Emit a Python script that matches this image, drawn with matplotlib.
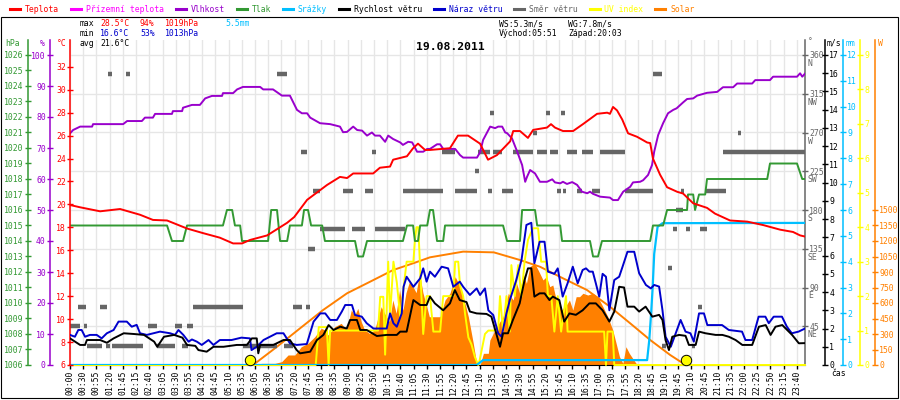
import matplotlib
matplotlib.use("Agg")
import matplotlib.pyplot as plt
import matplotlib.transforms as mtransforms
from matplotlib.lines import Line2D
from matplotlib.patches import Rectangle
import numpy as np

plt.rcParams['font.family'] = ['DejaVu Sans Mono', 'DejaVu Sans']
FS = 5.9

# ---------------- data ----------------
tick_labels = ["00:00","00:30","00:55","01:20","01:45","02:15","02:40","03:05","03:30","03:55",
               "04:20","04:45","05:10","05:35","06:05","06:30","06:55","07:20","07:45","08:10",
               "08:35","09:00","09:25","09:50","10:15","10:40","11:05","11:30","11:55","12:20",
               "12:45","13:10","13:35","14:05","14:30","14:55","15:20","15:45","16:10","16:35",
               "17:00","17:30","17:55","18:20","18:45","19:10","19:45","20:10","20:45","21:10",
               "21:35","22:00","22:25","22:50","23:15","23:40"]

temp_t = [0,0.33,0.98,1.63,2.28,2.70,3.16,3.81,4.33,4.88,5.31,5.60,5.86,6.42,7.07,7.3,7.72,
          8.37,8.79,9.02,9.22,9.87,10.09,10.42,10.52,10.97,11.17,11.33,11.56,11.72,12.37,12.63,
          12.96,13.35,13.61,13.90,14.33,14.43,14.65,14.91,15.08,15.53,15.66,15.79,16.05,16.38,
          16.70,17.16,17.49,17.58,17.68,17.81,17.98,18.17,18.46,18.66,18.79,18.89,18.98,19.21,
          19.44,19.77,19.96,20.29,20.74,21.0,21.49,22.05,22.57,23.12,23.54,23.77,23.93]
temp_v = [19.95,19.75,19.4,19.6,19.1,18.65,18.6,17.9,17.5,17.1,16.6,16.6,16.9,17.3,18.4,18.9,20.4,
          21.7,22.4,22.3,22.7,22.7,23.2,23.3,23.9,24.2,24.9,25.3,24.75,24.75,24.9,26.0,
          26.0,25.3,23.9,24.3,25.5,26.4,26.4,25.8,26.5,26.7,27.0,26.7,26.4,26.4,
          27.0,27.9,28.0,27.9,28.5,28.2,27.4,26.2,25.9,25.6,25.4,25.35,24.0,22.6,
          21.5,21.1,20.95,20.1,19.7,19.2,18.6,18.5,18.2,17.8,17.6,17.3,17.2]

hum_t = [0,0.10,0.33,0.72,0.75,1.73,1.86,2.34,2.44,2.70,2.77,3.32,3.35,3.65,3.68,3.97,4.23,4.40,
         4.62,4.95,4.98,5.31,5.44,5.63,6.19,6.29,6.61,6.90,7.16,7.39,7.55,7.72,7.82,8.14,8.47,
         8.79,8.89,9.02,9.22,9.35,9.51,9.67,9.83,9.93,10.09,10.26,10.36,10.52,10.75,10.84,11.01,
         11.14,11.30,11.50,11.63,11.72,11.95,12.05,12.15,12.54,12.70,12.80,13.25,13.35,13.45,
         13.68,13.84,13.94,14.07,14.17,14.23,14.39,14.56,14.72,14.82,14.88,14.98,15.14,15.30,
         15.53,15.70,15.79,15.96,16.05,16.18,16.35,16.51,16.67,16.84,16.93,17.03,17.26,17.58,
         17.68,17.84,18.01,18.24,18.33,18.56,18.66,18.82,18.95,19.02,19.15,19.31,19.47,19.64,
         19.75,19.96,20.09,20.29,20.42,20.74,21.07,21.26,21.59,21.72,22.21,22.31,22.79,22.89,
         23.67,23.77,23.84,23.93]
hum_v = [74.7,75.8,76.9,76.9,77.7,77.7,78.7,78.7,79.8,79.8,81.0,81.0,81.9,81.9,83.0,83.9,83.9,86.0,
         86.8,86.8,87.7,87.7,88.9,89.7,89.7,88.9,88.9,86.9,86.9,82.3,81.2,81.2,79.8,78.0,77.7,
         76.9,75.1,75.2,76.9,75.8,75.6,74.0,75.0,74.0,74.0,72.0,74.0,72.9,71.8,71.0,72.0,
         71.8,68.8,68.8,69.7,69.7,71.2,71.2,69.7,69.7,67.7,66.9,66.9,68.6,72.6,
         76.9,76.4,76.9,76.9,75.0,74.8,73.1,68.8,64.5,59.1,60.7,62.9,61.8,59.1,
         59.1,59.9,58.9,58.6,59.1,58.4,59.0,58.1,55.9,55.4,55.9,55.2,54.3,54.0,
         53.2,53.2,55.9,57.5,58.9,59.1,59.6,61.3,64.5,68.8,74.2,78.0,81.2,82.3,
         82.8,84.7,85.8,86.0,86.9,87.8,88.1,89.6,89.6,90.8,90.8,91.9,91.9,93.0,
         93.0,94.1,93.0,94.0]

p_start = [0,3.32,3.81,5.11,5.37,5.60,6.55,6.84,7.16,7.62,7.85,8.30,9.38,9.67,10.97,11.23,11.40,
           11.72,11.95,12.21,14.23,14.72,15.21,16.02,17.03,17.32,18.98,19.44,20.12,20.35,20.48,
           20.74,22.79,23.84]
p_end = [3.16,3.68,4.98,5.28,5.54,6.45,6.74,7.07,7.55,7.75,8.21,9.28,9.54,10.84,11.17,11.33,11.63,
         11.82,12.15,14.10,14.65,15.14,15.96,16.93,17.19,18.89,19.31,20.09,20.29,20.35,20.68,
         22.70,23.67,23.93]
p_val = [1015,1014,1015,1016,1015,1014,1016,1014,1015,1016,1015,1014,1013,1014,1015,1014,1015,
         1016,1014,1015,1014,1016,1015,1014,1013,1014,1015,1016,1017,1016,1017,
         1018,1019,1018]

ws_t = [0,0.33,0.49,0.55,0.98,1.2,1.42,1.75,2.08,2.41,2.74,2.84,3.06,3.39,3.66,3.81,4.08,4.18,
        4.45,4.67,5.0,5.43,5.76,5.92,6.08,6.13,6.19,6.62,6.95,7.16,7.38,7.49,7.82,8.04,8.25,
        8.42,8.58,8.80,9.01,9.12,9.34,9.45,9.66,9.99,10.31,10.64,10.75,10.96,11.18,11.40,11.61,
        11.72,11.88,12.15,12.37,12.53,12.69,12.91,13.02,13.24,13.56,13.72,13.89,14.0,14.10,
        14.26,14.42,14.64,14.80,14.91,15.02,15.12,15.29,15.45,15.61,15.72,15.93,16.09,16.26,
        16.47,16.69,16.91,17.12,17.34,17.56,17.72,17.88,18.04,18.15,18.37,18.53,18.74,18.96,
        19.18,19.29,19.39,19.50,19.61,19.83,20.04,20.15,20.37,20.48,20.69,21.02,21.24,21.45,
        21.67,21.89,22.21,22.43,22.65,22.81,22.97,23.19,23.35,23.51,23.73,23.93]
ws_v = [1.46,1.1,1.1,1.37,1.37,1.22,1.46,1.74,1.7,1.65,1.28,1.0,1.55,1.65,1.5,1.1,1.05,0.82,
        0.73,1.0,1.0,1.1,1.1,1.46,1.46,0.64,1.1,1.1,1.37,1.37,0.82,0.64,0.73,1.37,1.65,
        2.19,1.92,2.1,2.0,2.47,2.47,1.92,1.92,1.59,1.65,1.65,1.83,1.83,3.56,3.29,3.29,
        3.75,3.38,3.0,3.38,4.11,3.56,3.45,2.93,2.83,2.8,2.65,1.65,1.0,1.74,
        1.74,2.47,3.38,4.66,5.3,5.3,3.75,3.93,3.93,3.56,3.75,3.56,2.38,2.83,
        2.75,3.0,3.38,3.38,3.0,2.38,2.93,4.29,4.25,3.2,3.2,2.93,3.2,2.65,
        2.75,2.47,1.37,0.82,1.55,1.65,1.6,1.1,1.1,1.83,1.74,1.65,1.65,1.55,
        1.37,1.1,1.1,2.1,2.19,1.65,2.1,2.19,1.92,1.65,1.19,1.2]

wg_t = [0,0.16,0.27,0.38,0.49,0.65,0.87,1.03,1.2,1.42,1.58,1.85,2.01,2.17,2.28,2.5,2.71,2.93,
        3.26,3.42,3.53,3.69,3.86,3.97,4.13,4.29,4.51,4.67,4.88,5.26,5.58,5.86,5.91,6.08,6.3,
        6.51,6.73,6.95,7.16,7.38,7.71,7.93,8.15,8.31,8.47,8.69,8.85,8.96,9.18,9.28,9.5,9.66,
        9.88,10.31,10.42,10.53,10.64,10.8,10.86,10.96,11.18,11.4,11.5,11.61,11.72,11.88,12.1,
        12.31,12.48,12.69,12.8,13.02,13.24,13.35,13.51,13.62,13.78,13.94,14.05,14.21,14.32,
        14.53,14.7,14.86,15.02,15.12,15.29,15.45,15.56,15.77,15.88,16.04,16.2,16.37,16.53,
        16.69,16.8,16.91,17.02,17.12,17.23,17.34,17.45,17.56,17.72,17.88,17.99,18.15,18.37,
        18.53,18.75,18.91,19.02,19.18,19.29,19.39,19.56,19.72,19.88,20.04,20.2,20.31,20.48,
        20.64,20.75,21.23,21.45,21.88,21.99,22.21,22.42,22.64,22.75,22.91,23.18,23.34,23.5,
        23.72,23.93]
wg_v = [1.65,1.55,1.92,1.92,1.55,1.65,1.65,1.46,1.74,1.92,2.38,2.38,2.1,2.2,1.74,1.65,1.74,1.83,
        1.74,1.65,1.92,1.65,1.28,1.4,1.28,1.1,1.37,1.1,1.37,1.37,1.5,1.46,0.82,1.0,1.37,
        1.55,1.74,1.74,1.19,1.1,1.15,2.38,2.83,2.83,2.47,2.47,2.93,3.29,3.29,2.74,2.65,2.29,
        2.0,2.0,2.83,2.29,2.1,2.83,4.29,4.84,4.29,4.75,5.3,4.57,5.12,4.84,5.39,
        5.3,4.29,4.57,4.29,3.84,4.2,3.84,4.2,3.0,2.74,1.74,1.55,2.83,3.56,
        4.66,5.76,7.68,7.8,5.58,6.76,6.76,5.12,5.0,5.3,3.75,4.48,5.39,4.48,
        5.21,5.3,5.12,5.12,4.48,3.75,5.0,4.84,3.0,4.66,4.84,5.39,6.21,6.21,
        5.03,4.39,4.2,4.39,4.3,3.0,1.55,1.0,1.74,2.47,1.83,1.74,1.28,2.83,
        2.83,2.19,2.19,1.92,1.83,1.37,1.37,2.65,2.65,2.29,2.65,2.65,2.1,1.74,
        1.83,2.0]

sol_t = [0,5.9,6.24,6.67,6.89,7.1,7.32,7.53,7.75,7.97,8.18,8.29,8.4,8.62,8.83,9.0,9.16,9.27,9.37,
         9.48,9.59,9.75,9.92,10.02,10.13,10.24,10.4,10.51,10.62,10.73,10.84,10.94,11.05,11.16,
         11.27,11.38,11.49,11.59,11.7,12.05,12.21,12.37,12.54,12.7,12.8,12.97,13.13,13.24,13.35,
         13.46,13.62,13.67,13.89,14.1,14.27,14.43,14.54,14.64,14.75,14.86,14.97,15.13,15.24,
         15.4,15.51,15.62,15.72,15.83,16.0,16.16,16.26,16.37,16.48,16.59,16.7,16.86,17.02,
         17.18,17.35,17.51,17.67,17.78,17.89,18.0,18.1,18.21,18.32,18.43,18.64,18.86,19.3,
         19.6,20.3,20.4,23.93]
sol_v = [0,0,16,16,32,97,97,177,210,274,355,340,290,371,403,339,532,480,548,
         420,340,306,340,450,564,500,420,629,500,726,530,700,806,760,
         700,887,700,590,467,467,629,694,855,758,661,467,210,16,0,
         113,113,242,371,467,694,629,790,694,887,790,951,984,920,
         823,855,758,774,629,532,580,629,532,661,661,694,677,694,
         661,564,467,339,210,80,16,177,113,64,16,10,5,0,
         10,10,0,0]

solth_t = [5.96,6.74,7.49,8.24,9.02,9.77,10.52,11.17,11.72,12.8,13.8,14.65,15.3,16.05,16.83,
           17.58,18.24,18.89,19.54,19.96,20.05]
solth_v = [0,177,355,532,694,806,919,984,1042,1097,1090,1016,951,839,726,
           564,403,242,97,16,0]

uv_t = [0,8.0,8.1,8.36,8.42,8.47,10.03,10.1,10.2,10.26,10.36,10.42,10.53,10.64,10.75,10.96,11.18,
        11.23,11.28,11.34,11.39,11.5,11.61,11.72,11.83,12.05,12.15,12.48,12.54,12.64,12.7,12.8,
        12.86,12.97,13.07,13.18,13.29,13.34,13.51,13.62,13.94,14.0,14.1,14.21,14.32,14.37,14.48,
        14.59,14.7,14.8,14.91,15.07,15.24,15.34,15.5,15.56,15.67,15.77,15.88,15.99,16.15,16.2,
        17.39,17.45,17.5,17.67,17.72,23.93]
uv_v = [0,0,1.1,1.1,0.0,1.0,1.0,1.98,1.98,0.3,3.0,1.4,3.0,2.4,1.4,3.0,3.0,
        3.63,4.0,4.0,3.0,0.9,2.0,2.0,0.97,0.97,2.0,2.0,3.0,3.0,2.3,2.0,
        1.5,0.8,0.6,0.24,0.0,0.15,0.9,1.0,1.0,2.0,0.97,2.0,0.97,2.9,2.0,
        2.9,2.0,3.0,3.63,3.97,3.97,3.0,3.0,2.0,2.0,0.97,2.0,0.97,2.0,0.97,
        0.97,0.0,0.97,0.97,0.0,0]

rain_t = [0,13.24,13.45,18.79,18.86,18.92,18.97,19.02,19.13,19.29,23.93]
rain_v = [0,0,0.19,0.19,0.97,2.0,3.0,4.3,5.35,5.49,5.5]

dir_start = [0.00,0.26,0.46,0.55,0.98,1.18,1.25,1.36,1.82,2.54,2.83,3.42,3.65,3.81,4.00,5.63,6.74,
             6.97,7.26,7.52,7.68,7.75,7.91,8.14,8.89,9.18,9.61,9.82,9.93,10.84,12.11,12.54,13.20,
             13.28,13.60,13.68,13.77,14.07,14.42,15.07,15.20,15.50,15.63,15.86,15.98,16.05,16.18,
             16.50,16.67,17.00,17.26,18.07,18.98,19.28,19.48,19.64,19.74,19.90,20.05,20.25,20.45,
             20.50,20.68,21.26,21.74]
dir_end = [0.33,0.52,0.55,1.05,1.20,1.30,1.38,2.38,1.95,2.83,3.42,3.65,3.84,4.00,5.63,6.74,7.07,
           7.26,7.55,7.72,7.82,7.98,8.14,8.96,9.22,9.61,9.87,9.95,10.90,12.15,12.54,13.25,13.33,
           13.68,13.74,13.82,14.07,14.42,15.08,15.20,15.53,15.63,15.89,15.99,16.11,16.15,16.51,
           16.67,17.03,17.26,18.07,18.98,19.28,19.40,19.60,19.77,19.96,20.00,20.18,20.35,20.58,
           20.74,21.36,23.93,21.86]
dir_val = [45,67.5,45,22.5,67.5,22.5,337.5,22.5,337.5,45,22.5,45,22.5,45,67.5,22.5,337.5,
           22.5,67.5,247.5,67.5,135,202.5,157.5,202.5,157.5,202.5,247.5,157.5,202.5,247.5,202.5,225,
           247.5,202.5,292.5,247.5,202.5,247.5,270,247.5,292.5,247.5,202.5,292.5,202.5,247.5,
           202.5,247.5,202.5,247.5,202.5,337.5,22.5,112.5,157.5,180,202.5,157.5,22.5,67.5,
           157.5,202.5,247.5,270]

sun_times = ["05:51", "20:03"]

legend_names = ["Teplota", "Přízemní teplota", "Vlhkost", "Tlak", "Srážky",
                "Rychlost větru", "Náraz větru", "Směr větru", "UV index", "Solar"]

# ---------------- colours ----------------
C_T, C_TG, C_H, C_P = '#FF0000', '#FF00FF', '#9900CC', '#339933'
C_R, C_WS, C_WG, C_D = '#00BFFF', '#000000', '#0000CC', '#666666'
C_UV, C_S, C_GRID = '#FFFF00', '#FF8000', '#E6E6E6'
legend_colors = [C_T, C_TG, C_H, C_P, C_R, C_WS, C_WG, C_D, C_UV, C_S]

def hours(s):
    hh, mm = s.split(':')
    return int(hh) + int(mm) / 60.0

# ---------------- figure ----------------
WPX, HPX = 900, 400
fig = plt.figure(figsize=(9, 4), dpi=100)
L, R, T, B = 70, 805, 40, 365
REF = 55  # pixel row of the top tick on most scales

def fpos(x, y):
    return x / WPX, 1 - y / HPX

def top_lim(lo, hi, y_hi):
    return lo + (hi - lo) * (B - T) / (B - y_hi)

host = fig.add_axes([L / WPX, 1 - B / HPX, (R - L) / WPX, (B - T) / HPX])
XMAX = 23.93
host.set_xlim(0, XMAX)
S_TOP = top_lim(0, 3000, REF)
host.set_ylim(0, S_TOP)
D_TOP = top_lim(0, 360, REF)

def style_axis(a, side, off_px, color, ticks, labels=None):
    for s in a.spines.values():
        s.set_visible(False)
    sp = a.spines[side]
    sp.set_visible(True)
    sp.set_color(color)
    sp.set_linewidth(1.1)
    sp.set_position(('outward', off_px * 0.72))
    if side == 'left':
        a.yaxis.tick_left()
    else:
        a.yaxis.tick_right()
    a.set_yticks(ticks)
    if labels is not None:
        a.set_yticklabels(labels)
    a.tick_params(axis='y', colors=color, direction='inout', length=4, width=1,
                  pad=1, labelsize=FS)
    a.patch.set_visible(False)

host.set_xticks(np.linspace(0, hours(tick_labels[-1]), len(tick_labels)))
host.set_xticklabels(tick_labels, rotation=90, fontsize=FS)
host.tick_params(axis='x', direction='out', length=3, width=1, pad=1, colors='black')
host.set_axisbelow(True)
host.grid(axis='x', color=C_GRID, lw=1)
for d in np.arange(45, 361, 45):
    host.axhline(d / D_TOP * S_TOP, color=C_GRID, lw=1, zorder=0)

host.fill_between(sol_t, sol_v, color=C_S, lw=0, zorder=2)
host.plot(solth_t, solth_v, color=C_S, lw=1.4, zorder=3)

# direction axis (grey, right, at plot edge)
ax_D = host.twinx()
ax_D.set_ylim(0, D_TOP)
deg_ticks = np.arange(45, 361, 45)
style_axis(ax_D, 'right', 0, C_D, deg_ticks, [str(d) for d in deg_ticks])
ax_D.hlines(dir_val, dir_start, dir_end, colors=C_D, lw=3.2)
compass = ['NE', 'E', 'SE', 'S', 'SW', 'W', 'NW', 'N']
ctr = mtransforms.offset_copy(ax_D.get_yaxis_transform(which='tick2'), fig=fig, x=3, y=-4, units='dots')
for d, c in zip(deg_ticks, compass):
    ax_D.text(1.0, d, c, transform=ctr, ha='left', va='top', fontsize=FS, color=C_D)

# UV axis
ax_UV = host.twinx()
ax_UV.set_ylim(0, top_lim(0, 9, REF))
style_axis(ax_UV, 'right', 55, C_UV, np.arange(0, 10, 1))
ax_UV.plot(uv_t, uv_v, color=C_UV, lw=1.4, clip_on=False, zorder=4)

# rain axis
ax_R = host.twinx()
ax_R.set_ylim(0, top_lim(0, 12, REF))
style_axis(ax_R, 'right', 38, C_R, np.arange(0, 13, 1))
ax_R.plot(rain_t, rain_v, color=C_R, lw=1.6)

# pressure axis
ax_P = host.twinx()
ax_P.set_ylim(1006, top_lim(1006, 1026, REF))
style_axis(ax_P, 'left', 42, C_P, np.arange(1006, 1027, 1))
p_t, p_v = [], []
for s, e, v in zip(p_start, p_end, p_val):
    p_t += [s, e]
    p_v += [v, v]
ax_P.plot(p_t, p_v, color=C_P, lw=1.4)

# humidity axis
ax_H = host.twinx()
ax_H.set_ylim(0, top_lim(0, 100, REF))
style_axis(ax_H, 'left', 20, C_H, np.arange(0, 101, 10))
ax_H.plot(hum_t, hum_v, color=C_H, lw=1.4)

# temperature axis
ax_T = host.twinx()
ax_T.set_ylim(6, top_lim(6, 32, 66.8))
style_axis(ax_T, 'left', 0, C_T, np.arange(6, 33, 2))
ax_T.plot(temp_t, temp_v, color=C_T, lw=1.4)

# wind axis
ax_W = host.twinx()
ax_W.set_ylim(0, top_lim(0, 17, REF))
style_axis(ax_W, 'right', 20, C_WS, np.arange(0, 18, 1))
ax_W.plot(wg_t, wg_v, color=C_WG, lw=1.4)
ax_W.plot(ws_t, ws_v, color=C_WS, lw=1.4)
sun_tr = mtransforms.offset_copy(ax_W.transData, fig=fig, x=0, y=5, units='dots')
ax_W.plot([hours(s) for s in sun_times], [0] * len(sun_times), 'o', ms=7.5,
          mfc=C_UV, mec='black', mew=0.7, transform=sun_tr, clip_on=False, zorder=10)

# host = solar axis (styled last, since twinx moves the host's ticks to the left)
style_axis(host, 'right', 70, C_S, np.arange(0, 1501, 150))
host.patch.set_visible(True)
host.spines['bottom'].set_visible(True)
host.spines['bottom'].set_color('black')
host.tick_params(axis='y', left=False, labelleft=False, right=True, labelright=True)

# ---------------- texts ----------------
def ftext(x, y, s, color='black', **kw):
    fx, fy = fpos(x, y)
    fig.text(fx, fy, s, color=color, fontsize=kw.pop('fontsize', FS), va='center', **kw)

# axis unit labels
ftext(5, 43, 'hPa', C_P)
ftext(40, 43, '%', C_H)
ftext(57, 43, '°C', C_T)
ftext(808, 42, '°', C_D)
ftext(827, 43, 'm/s', 'black')
ftext(846, 43, 'mm', C_R)
ftext(878, 43, 'W', C_S)
ftext(831, 374, 'čas', 'black')

# title
ftext(450, 47, '19.08.2011', 'black', fontsize=8.2, fontweight='bold', ha='center')

# stats
ftext(80, 24, 'max'); ftext(100, 24, '28.5°C', C_T); ftext(140, 24, '94%', C_T)
ftext(165, 24, '1019hPa', C_T); ftext(225, 24, '5.5mm', C_R)
ftext(80, 34, 'min'); ftext(100, 34, '16.6°C', C_WG); ftext(140, 34, '53%', C_WG)
ftext(165, 34, '1013hPa', C_WG)
ftext(80, 44, 'avg'); ftext(100, 44, '21.6°C')
ftext(499, 24, 'WS:5.3m/s'); ftext(568, 24, 'WG:7.8m/s')
ftext(499, 34, 'Východ:05:51'); ftext(568, 34, 'Západ:20:03')

# legend row
x = 10
for name, col in zip(legend_names, legend_colors):
    x0, y0 = fpos(x, 9)
    x1, _ = fpos(x + 10, 9)
    fig.add_artist(Line2D([x0, x1], [y0, y0], color=col, lw=2.2, transform=fig.transFigure))
    ftext(x + 15, 9, name, col)
    x = x + 15 + len(name) * 4.9 + 11.5

# frame
fx0, fy0 = fpos(0.5, 398)
fig.add_artist(Rectangle((fx0, fy0), 897 / WPX, (398 - 17) / HPX, fill=False,
                         edgecolor='black', lw=0.8, transform=fig.transFigure))

fig.savefig('out.png', dpi=100, facecolor='white')
